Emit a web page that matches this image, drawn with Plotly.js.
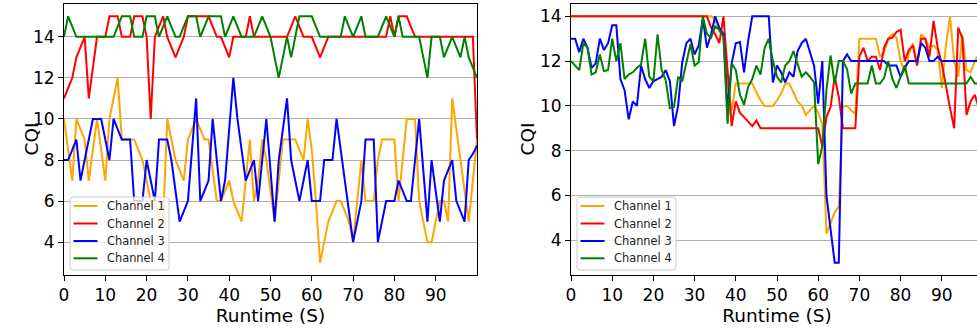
<!DOCTYPE html>
<html>
<head>
<meta charset="utf-8">
<script src="https://cdn.plot.ly/plotly-3.0.1.min.js"></script>
<style>
html, body { margin: 0; padding: 0; overflow: hidden; background: #fff; }
#chart { width: 1000px; height: 328px; }
</style>
</head>
<body>
<div id="chart"></div>
<script>
// ---- Data ----
const seriesNames = ["Channel 1", "Channel 2", "Channel 3", "Channel 4"];
const xTickVals = [0, 10, 20, 30, 40, 50, 60, 70, 80, 90];
const yTickVals = [4, 6, 8, 10, 12, 14];
const xTitle = "Runtime (S)";
const yTitle = "CQI";

// Left panel
const leftCh1 = [
  10, 8.5, 7, 10, 9.5, 9, 7, 8.5, 10, 8.5,
  7, 10, 11, 12, 9, 9, 9, 9, 8.5, 8,
  7, 6, 6, 5, 5, 10, 9, 8, 7.5, 7,
  9, 9.5, 10, 9.5, 9, 9, 7.5, 6, 6, 6.5,
  7, 6, 5.5, 5, 7, 9, 6, 7, 9, 8,
  6.5, 5, 7, 9, 9, 9, 9, 8.5, 8, 10,
  8.5, 6, 3, 4, 5, 5.5, 6, 6, 5.5, 5,
  4, 6, 8, 6, 6, 6, 8, 9, 9, 9,
  9, 6, 8, 10, 10, 10, 6, 5, 4, 4,
  5, 6, 6, 5, 11, 9.5, 8, 6.5, 5, 7,
  9
];
const leftCh2 = [
  11, 11.5, 12, 13, 13.5, 14, 11, 12.5, 14, 14,
  14, 15, 15, 15, 14, 14, 14, 15, 15, 15,
  14, 10, 14, 14.5, 15, 14, 13.5, 13, 13.5, 14,
  15, 15, 15, 15, 15, 15, 14.5, 14, 14, 13.5,
  13, 14, 14, 14, 14, 15, 14, 14, 14, 14,
  14, 14, 14, 14, 14, 14.5, 15, 14.5, 14, 14,
  14, 13.5, 13, 13.5, 14, 14, 14, 14, 14, 14,
  14, 14, 14, 14, 14, 14, 14, 14, 14, 15,
  14, 15, 15, 15, 14.5, 14, 14, 14, 14, 14,
  14, 14, 14, 14, 14, 14, 14, 14, 14, 14,
  9
];
const leftCh3 = [
  8, 8, 8.5, 9, 7, 8, 9, 10, 10, 10,
  9, 8, 10, 9.5, 9, 9, 9, 6, 6, 6,
  8, 7, 6, 9, 9, 9, 8, 6.5, 5, 5.5,
  6, 8.5, 11, 6, 6.5, 7, 10, 8, 6, 7,
  9.5, 12, 10, 8.5, 7, 7.5, 8, 6, 8, 10,
  7.5, 5, 8, 9.5, 11, 8, 7, 6, 7, 8,
  6, 6, 6, 8, 8, 8, 10, 8.5, 7, 5.5,
  4, 5, 6, 9, 9, 9, 4, 5, 6, 6,
  6, 7, 6.5, 6, 6, 8, 10, 7.5, 5, 8,
  6.5, 5, 7, 7.5, 8, 6, 5.5, 5, 8, 8.3,
  8.7
];
const leftCh4 = [
  14, 15, 14.5, 14, 14, 14, 14, 14, 14, 14,
  14, 14, 14, 14.5, 15, 15, 15, 14, 14, 14,
  15, 15, 15, 14, 14.5, 15, 14.5, 14, 14, 14.5,
  15, 15, 15, 14, 14.5, 15, 15, 15, 15, 14,
  14.5, 15, 14.5, 14, 14, 14, 14, 14.5, 15, 14.5,
  14, 13, 12, 13, 14, 13, 14, 15, 15, 15,
  15, 14.5, 14, 14, 14, 14, 14, 14, 15, 14.5,
  14, 14.5, 15, 14, 14, 14, 14, 14.5, 15, 14.5,
  14, 15, 14, 14, 14, 14, 14, 13, 12, 14,
  14, 14, 13, 13.5, 14, 13.5, 13, 14, 13, 12.5,
  12
];

// Right panel
const rightCh1 = [
  14, 14, 14, 14, 14, 14, 14, 14, 14, 14,
  14, 14, 14, 14, 14, 14, 14, 14, 14, 14,
  14, 14, 14, 14, 14, 14, 14, 14, 14, 14,
  14, 14, 14, 14, 14, 13.85, 13.3, 13.2, 11.0, 9.8,
  11, 11, 11, 11, 11, 10.6, 10.25, 10, 10, 10,
  10.25, 10.55, 11, 11, 10.6, 10.2, 10, 9.6, 9.8, 10,
  9.7, 9.2, 4.3, 4.8, 5.25, 5.5, 10, 10, 9.8, 9.65,
  13, 13, 13, 13, 13, 12.2, 12.4, 13, 13.2, 13.05,
  12, 11.5, 12.3, 12.8, 11.8, 13.2, 13, 12.6, 12.7, 12.5,
  10.8, 12.7, 14, 12, 11.3, 13.2, 11.6, 11.5, 12, 12.3,
  12.3
];
const rightCh2 = [
  14, 14, 14, 14, 14, 14, 14, 14, 14, 14,
  14, 14, 14, 14, 14, 14, 14, 14, 14, 14,
  14, 14, 14, 14, 14, 14, 14, 14, 14, 14,
  14, 14, 14, 14, 13.5, 13.2, 12.8, 14, 11.6, 9.1,
  10.2, 9.7, 9.5, 9.3, 9.1, 9.35, 9.0, 9.0, 9.0, 9.0,
  9, 9, 9, 9, 9, 9, 9, 9, 9, 9,
  9.0, 8.2, 9.5, 9.95, 11.3, 10.4, 9.0, 9.0, 9.0, 9.0,
  12.2, 12.6, 12.0, 12.2, 12.2, 11.6, 12.6, 13.0, 13.05, 13.3,
  13.4, 12.0, 12.5, 12.7, 11.8, 13.0, 13.0, 12.2, 13.8, 12.6,
  11.9, 10.8, 9.9, 9.0, 13.5, 13.0, 9.6, 10.2, 10.5, 9.9,
  10
];
const rightCh3 = [
  13.0, 13.0, 12.4, 13.0, 12.6, 11.7, 11.9, 13.0, 12.5, 12.8,
  13.6, 13.6, 11.2, 10.7, 9.4, 10.2, 10.0, 11.8, 11.2, 10.8,
  11.1, 11.2, 11.3, 11.6, 11.1, 9.1, 10.0, 11.95, 12.8, 13.0,
  12.3, 12.7, 13.9, 12.6, 13.2, 14.0, 13.5, 13.2, 9.8, 11.9,
  12.8, 12.85, 11.5, 12.9, 14, 14, 14, 14, 14, 11.05,
  11.8, 11.5, 11.05, 11.5, 11.3, 12.45, 12.8, 13.0, 12.45, 11.8,
  10.1, 12.0, 6.0, 4.5, 3.0, 3.0, 12.0, 12.3, 12.0, 12.0,
  12.0, 12.0, 12.0, 12.0, 12.0, 12.0, 12.0, 11.8, 11.8, 11.8,
  11.3, 11.7, 12.0, 12.0, 12.0, 12.8, 12.6, 12.0, 12.0, 12.2,
  12, 12, 12, 12, 12, 12, 12, 12, 12, 12,
  12
];
const rightCh4 = [
  12.0, 11.8, 11.6, 12.8, 12.6, 11.4, 11.5, 12.3, 11.55, 11.6,
  13.0, 12.0, 12.8, 11.2, 11.4, 11.5, 11.7, 11.85, 13.0, 11.3,
  11.1, 13.2, 11.6, 11.15, 9.9, 9.95, 11.3, 11.1, 11.9, 12.75,
  11.8, 11.95, 14.0, 13.2, 13.05, 13.55, 13.4, 13.1, 9.2, 11.9,
  11.6, 10.5, 10.05, 10.85, 11.2, 11.8, 11.4, 12.6, 13.0, 12.0,
  11.3, 11.05, 11.8, 12.0, 12.45, 11.9, 11.3, 11.5, 11.3, 11.05,
  7.4, 8.2, 10.7, 12.25, 11.0, 12.0, 12.0, 11.65, 10.55, 11.0,
  11.0, 11.0, 11.0, 11.8, 11.0, 11.0, 11.25, 12.0, 11.2, 10.8,
  11.3, 11.8, 11.0, 11.0, 11.0, 11.0, 11.0, 11.0, 11.0, 11.0,
  11.0, 11.0, 11.0, 11.0, 11.0, 11.0, 11.0, 11.3, 11.0, 11.0,
  11.0
];

// ---- Styling ----
const colors = ["orange", "red", "blue", "green"];
const FONT = "DejaVu Sans, Liberation Sans, sans-serif";

const runtime = Array.from({ length: leftCh1.length }, (_, i) => i);

function makeTraces(seriesList, xa, ya) {
  return seriesList.map((ys, k) => ({
    type: "scatter",
    mode: "lines",
    x: runtime,
    y: ys,
    xaxis: xa,
    yaxis: ya,
    name: seriesNames[k],
    showlegend: false,
    line: { color: colors[k], width: 2 },
    hoverinfo: "skip"
  }));
}

const traces = [
  ...makeTraces([leftCh1, leftCh2, leftCh3, leftCh4], "x", "y"),
  ...makeTraces([rightCh1, rightCh2, rightCh3, rightCh4], "x2", "y2")
];

const xCommon = {
  range: [0, 100],
  tickvals: xTickVals,
  ticks: "outside",
  ticklen: 5,
  tickwidth: 1,
  tickcolor: "#000",
  showline: true,
  mirror: true,
  linecolor: "#000",
  linewidth: 1,
  showgrid: false,
  zeroline: false,
  tickfont: { family: FONT, size: 17, color: "#000" },
  title: { text: xTitle, font: { family: FONT, size: 18.5, color: "#000" }, standoff: 3 }
};
const yCommon = {
  tickvals: yTickVals,
  ticks: "outside",
  ticklen: 5,
  tickwidth: 1,
  tickcolor: "#000",
  showline: true,
  mirror: true,
  linecolor: "#000",
  linewidth: 1,
  showgrid: true,
  gridcolor: "#b0b0b0",
  gridwidth: 1,
  zeroline: false,
  tickfont: { family: FONT, size: 17, color: "#000" }
};

// ---- Pixel helpers for the paper coordinate system ----
const W = 1000, H = 328, ML = 64, MR = 17, MT = 4, MB = 53;
const plotW = W - ML - MR, plotH = H - MT - MB;
function paperX(px) { return (px - ML) / plotW; }
function paperY(py) { return (H - MB - py) / plotH; }

// ---- Matplotlib-style legends built from shapes + text ----
const shapes = [];
const annotations = [];
function addLegend(boxLeft) {
  const x0 = boxLeft, x1 = boxLeft + 99, y0 = 197, y1 = 270, r = 3;
  const X = paperX, Y = paperY;
  const path =
    `M ${X(x0 + r)} ${Y(y0)} L ${X(x1 - r)} ${Y(y0)} Q ${X(x1)} ${Y(y0)} ${X(x1)} ${Y(y0 + r)} ` +
    `L ${X(x1)} ${Y(y1 - r)} Q ${X(x1)} ${Y(y1)} ${X(x1 - r)} ${Y(y1)} ` +
    `L ${X(x0 + r)} ${Y(y1)} Q ${X(x0)} ${Y(y1)} ${X(x0)} ${Y(y1 - r)} ` +
    `L ${X(x0)} ${Y(y0 + r)} Q ${X(x0)} ${Y(y0)} ${X(x0 + r)} ${Y(y0)} Z`;
  shapes.push({
    type: "path", xref: "paper", yref: "paper", path: path, layer: "above",
    fillcolor: "rgba(255,255,255,0.8)", line: { color: "#cccccc", width: 1 }
  });
  const rows = [206, 223.5, 241, 258.3];
  seriesNames.forEach((name, k) => {
    shapes.push({
      type: "line", xref: "paper", yref: "paper", layer: "above",
      x0: X(boxLeft + 3.5), x1: X(boxLeft + 27.5), y0: Y(rows[k]), y1: Y(rows[k]),
      line: { color: colors[k], width: 2 }
    });
    annotations.push({
      text: name, xref: "paper", yref: "paper", x: X(boxLeft + 35), y: Y(rows[k]),
      xanchor: "left", yanchor: "middle", showarrow: false,
      font: { family: FONT, size: 11.4, color: "#222" }
    });
  });
}
addLegend(70);
addLegend(577);

annotations.push(
  { text: yTitle, xref: "paper", yref: "paper", x: paperX(31), y: 0.5,
    xanchor: "center", yanchor: "middle", textangle: -90, showarrow: false,
    font: { family: FONT, size: 18.5, color: "#000" } },
  { text: yTitle, xref: "paper", yref: "paper", x: paperX(527), y: 0.5,
    xanchor: "center", yanchor: "middle", textangle: -90, showarrow: false,
    font: { family: FONT, size: 18.5, color: "#000" } }
);

const layout = {
  width: W,
  height: H,
  margin: { l: ML, r: MR, t: MT, b: MB },
  paper_bgcolor: "#fff",
  plot_bgcolor: "#fff",
  showlegend: false,
  xaxis: Object.assign({}, xCommon, { domain: [0, paperX(477)], anchor: "y" }),
  yaxis: Object.assign({}, yCommon, { range: [2.4, 15.6], anchor: "x" }),
  xaxis2: Object.assign({}, xCommon, { domain: [paperX(571), 1], anchor: "y2" }),
  yaxis2: Object.assign({}, yCommon, { range: [2.45, 14.55], anchor: "x2" }),
  shapes: shapes,
  annotations: annotations
};

Plotly.newPlot("chart", traces, layout, { displayModeBar: false, staticPlot: true });
</script>
</body>
</html>
